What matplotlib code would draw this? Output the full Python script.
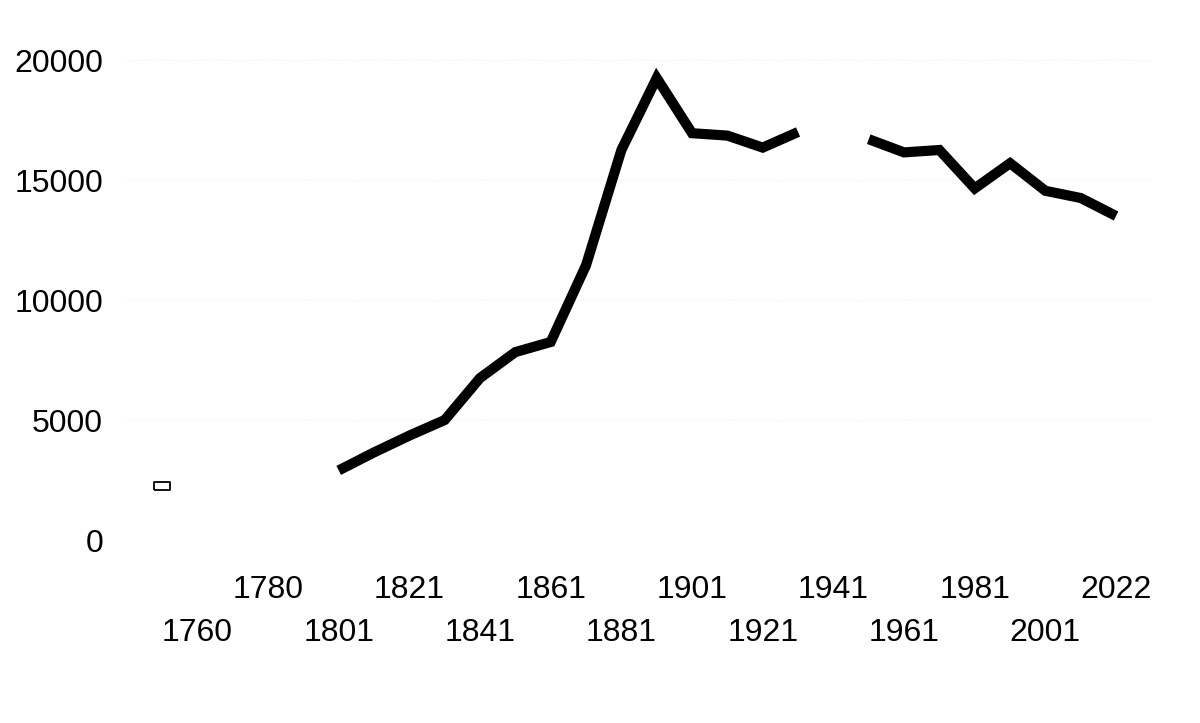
import matplotlib
matplotlib.use("Agg")
import matplotlib.pyplot as plt
import numpy as np
from matplotlib.path import Path

plt.rcParams['font.family'] = ['Liberation Sans', 'DejaVu Sans']

# census years (categories) and population
years = ["1755", "1760", "1770", "1780", "1790",
         "1801", "1811", "1821", "1831", "1841", "1851", "1861", "1871",
         "1881", "1891", "1901", "1911", "1921", "1931", "1941", "1951",
         "1961", "1971", "1981", "1991", "2001", "2011", "2022"]
population = [np.nan, np.nan, np.nan, np.nan, np.nan,
              2900, 3650, 4350, 5000, 6750, 7830, 8250, 11450,
              16250, 19250, 16950, 16850, 16350, 17000, np.nan, 16700,
              16150, 16250, 14650, 15700, 14550, 14250, 13500]
# single early estimate (Webster)
early_year = ["1755"]
early_value = [2250]

shown_upper = ["1780", "1821", "1861", "1901", "1941", "1981", "2022"]
shown_lower = ["1760", "1801", "1841", "1881", "1921", "1961", "2001"]

fig = plt.figure(figsize=(12, 7.23), dpi=100)
ax = fig.add_axes([126.7 / 1200, 1 - 540 / 723, 1024.7 / 1200, 480 / 723])

x = np.arange(len(years))
ax.plot(x, population, color="black", lw=7.3, solid_capstyle="butt",
        solid_joinstyle="miter", clip_on=False)

rect = Path([[-2, -1], [2, -1], [2, 1], [-2, 1], [-2, -1]])
ax.plot([years.index(y) for y in early_year], early_value, ls="none",
        marker=rect, markersize=12, markerfacecolor="white",
        markeredgecolor="black", markeredgewidth=1.3, clip_on=False)

ax.set_xlim(-1, len(years))
ax.set_ylim(0, 20000)
ax.set_yticks([0, 5000, 10000, 15000, 20000])
ax.set_yticklabels(["0", "5000", "10000", "15000", "20000"])

ax.set_xticks([years.index(y) for y in shown_upper])
ax.set_xticklabels(shown_upper)
ax.set_xticks([years.index(y) for y in shown_lower], minor=True)
ax.set_xticklabels(shown_lower, minor=True)

ax.tick_params(axis="x", which="major", length=0, pad=25, labelsize=23)
ax.tick_params(axis="x", which="minor", length=0, pad=56, labelsize=23)
ax.tick_params(axis="y", length=0, pad=17, labelsize=23)

ax.grid(axis="y", color="#eeeeee", lw=0.8, ls=":")
for s in ax.spines.values():
    s.set_visible(False)

fig.savefig("out.png", dpi=100, facecolor="white")
